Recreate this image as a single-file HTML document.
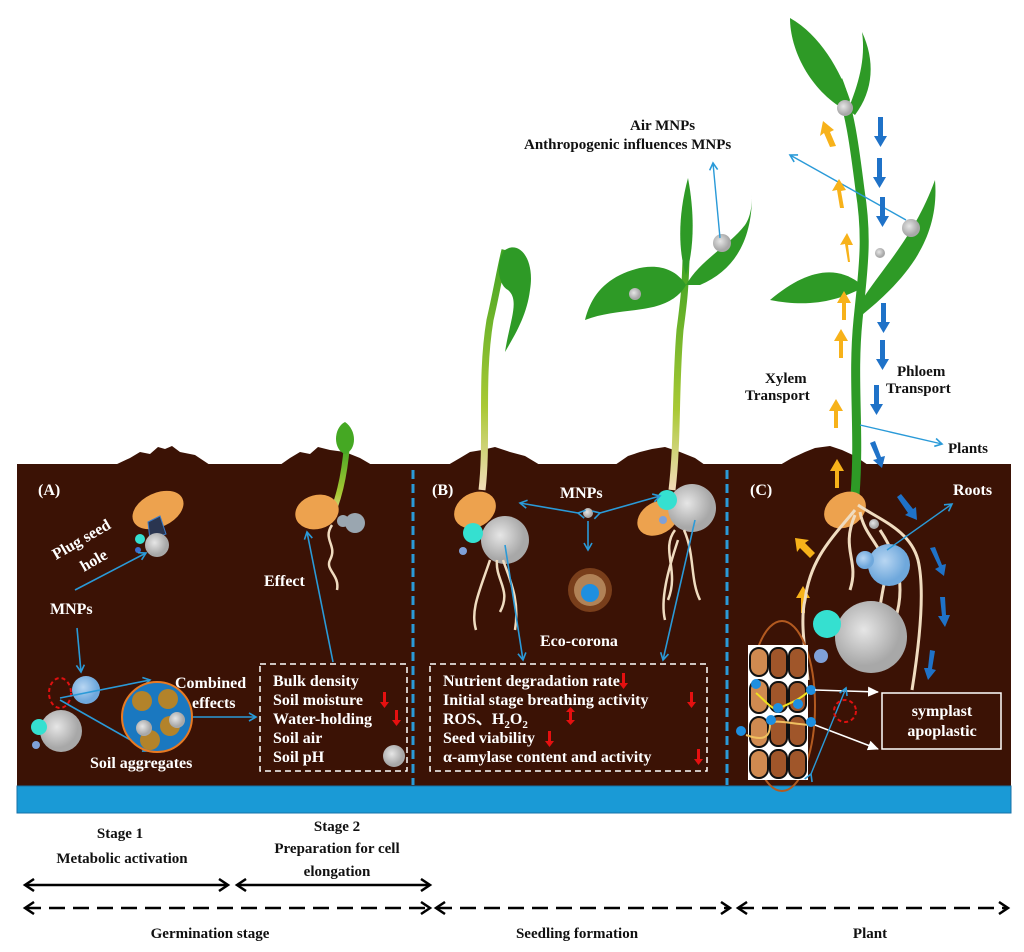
<!DOCTYPE html>
<html><head><meta charset="utf-8">
<style>
html,body{margin:0;padding:0;background:#fff;}
svg{display:block;}
text{font-family:"Liberation Serif",serif;font-weight:bold;}
.w{fill:#fff;font-size:16px;}
.k{fill:#111;font-size:15px;}
</style></head><body>
<svg width="1024" height="952" viewBox="0 0 1024 952" xmlns="http://www.w3.org/2000/svg">
<defs>
<marker id="ab" markerWidth="10" markerHeight="10" refX="8" refY="5" orient="auto" markerUnits="userSpaceOnUse"><path d="M1,1 L8,5 L1,9" fill="none" stroke="#2a9ad8" stroke-width="1.6"/></marker>
<marker id="aw" markerWidth="12" markerHeight="12" refX="10" refY="6" orient="auto" markerUnits="userSpaceOnUse"><path d="M0,1 L11,6 L0,11 z" fill="#fff"/></marker>
<marker id="ak" markerWidth="14" markerHeight="14" refX="11" refY="7" orient="auto-start-reverse" markerUnits="userSpaceOnUse"><path d="M2,1 L11,7 L2,13" fill="none" stroke="#000" stroke-width="2.5"/></marker>
<radialGradient id="gb" cx="40%" cy="40%"><stop offset="0" stop-color="#e6e6e6"/><stop offset="1" stop-color="#a8a8a8"/></radialGradient>
<radialGradient id="bb" cx="40%" cy="40%"><stop offset="0" stop-color="#b8d6f2"/><stop offset="1" stop-color="#6fa8dc"/></radialGradient>
<linearGradient id="st" x1="0" y1="1" x2="0" y2="0"><stop offset="0" stop-color="#f3dcb8"/><stop offset="0.35" stop-color="#a9c934"/><stop offset="1" stop-color="#3fa323"/></linearGradient>
</defs>

<g fill="#3b1205">
<path d="M115,465 L130,458 L140,452 L150,454 L158,447 L165,449 L172,446 L180,452 L195,455 L210,465 Z"/>
<path d="M280,465 L290,458 L300,452 L310,454 L318,447 L330,450 L345,452 L360,458 L372,465 Z"/>
<path d="M448,465 L460,458 L470,452 L482,450 L495,447 L510,452 L525,456 L540,465 Z"/>
<path d="M615,465 L628,456 L640,452 L652,449 L665,447 L680,452 L695,458 L705,465 Z"/>
<path d="M780,465 L792,458 L805,452 L815,448 L830,446 L842,450 L855,456 L868,465 Z"/>
</g>
<rect x="17" y="464" width="994" height="322" fill="#3b1205"/>
<rect x="17" y="786" width="994" height="27" fill="#1a9ad6" stroke="#1671a8" stroke-width="1"/>
<line x1="413" y1="470" x2="413" y2="785" stroke="#2a9ad8" stroke-width="3" stroke-dasharray="9,5"/>
<line x1="727" y1="470" x2="727" y2="785" stroke="#2a9ad8" stroke-width="3" stroke-dasharray="9,5"/>

<!-- Panel A -->
<text class="w" x="38" y="495">(A)</text>
<ellipse cx="158" cy="510" rx="27" ry="17" transform="rotate(-25 158 510)" fill="#eda24e"/>
<path d="M148,522 L160,516 L166,534 L150,540 Z" fill="#2a3550" stroke="#3a7bc8"/>
<circle cx="157" cy="545" r="12" fill="url(#gb)"/>
<circle cx="140" cy="539" r="5" fill="#35e0d0"/>
<circle cx="138" cy="550" r="3" fill="#3a6fd0"/>
<text class="w" transform="translate(56,560) rotate(-30)">Plug seed</text>
<text class="w" transform="translate(84,572) rotate(-30)">hole</text>
<line x1="75" y1="590" x2="146" y2="553" stroke="#2a9ad8" stroke-width="1.6" marker-end="url(#ab)"/>
<text class="w" x="50" y="614">MNPs</text>
<line x1="77" y1="628" x2="81" y2="672" stroke="#2a9ad8" stroke-width="1.6" marker-end="url(#ab)"/>
<circle cx="86" cy="690" r="14" fill="url(#bb)"/>
<circle cx="61" cy="731" r="21" fill="url(#gb)"/>
<circle cx="39" cy="727" r="8" fill="#35e0d0"/>
<circle cx="36" cy="745" r="4" fill="#7fa0d8"/>
<ellipse cx="60" cy="693" rx="11" ry="15" fill="none" stroke="#e01010" stroke-width="2" stroke-dasharray="4,3"/>
<line x1="60" y1="698" x2="150" y2="680" stroke="#2a9ad8" stroke-width="1.6" marker-end="url(#ab)"/>
<line x1="60" y1="700" x2="150" y2="751" stroke="#2a9ad8" stroke-width="1.6" marker-end="url(#ab)"/>
<circle cx="157" cy="717" r="35" fill="#1a78c0" stroke="#e87a22" stroke-width="2"/>
<g fill="#b3832a"><circle cx="142" cy="701" r="10"/><circle cx="168" cy="699" r="10"/><circle cx="170" cy="726" r="10"/><circle cx="150" cy="740" r="10"/></g>
<circle cx="144" cy="728" r="8" fill="url(#gb)"/><circle cx="177" cy="720" r="8" fill="url(#gb)"/>
<text class="w" x="175" y="688">Combined</text>
<text class="w" x="192" y="708">effects</text>
<text class="w" x="90" y="768">Soil aggregates</text>
<line x1="193" y1="717" x2="256" y2="717" stroke="#2a9ad8" stroke-width="1.6" marker-end="url(#ab)"/>
<rect x="260" y="664" width="147" height="107" fill="none" stroke="#fff" stroke-width="1.5" stroke-dasharray="6,4"/>
<text class="w" x="273" y="686">Bulk density</text>
<text class="w" x="273" y="705">Soil moisture</text>
<text class="w" x="273" y="724">Water-holding</text>
<text class="w" x="273" y="743">Soil air</text>
<text class="w" x="273" y="762">Soil pH</text>
<g fill="#e51010"><path d="M383,692 h3 v10 h3 l-4.5,6 l-4.5,-6 h3z"/><path d="M395,710 h3 v10 h3 l-4.5,6 l-4.5,-6 h3z"/></g>
<circle cx="394" cy="756" r="11" fill="url(#gb)"/>
<line x1="333" y1="662" x2="307" y2="532" stroke="#2a9ad8" stroke-width="1.6" marker-end="url(#ab)"/>
<text class="w" x="264" y="586">Effect</text>
<path d="M330,520 C338,500 344,480 347,445" stroke="url(#st)" stroke-width="6" fill="none"/>
<path d="M345,422 C333,428 333,450 345,454 C357,450 357,430 345,422" fill="#45a823"/>
<ellipse cx="317" cy="512" rx="22" ry="17" transform="rotate(-15 317 512)" fill="#eda24e"/>
<circle cx="355" cy="523" r="10" fill="#9aa6b0"/><circle cx="343" cy="521" r="6" fill="#9aa6b0"/>
<path d="M332,525 C322,540 338,545 330,560 C325,570 340,575 337,590" stroke="#f0dcc0" stroke-width="2.5" fill="none"/>

<!-- Panel B -->
<text class="w" x="432" y="495">(B)</text>
<path d="M482,490 C488,440 480,380 490,320 C497,290 500,270 505,250" stroke="url(#st)" stroke-width="7" fill="none"/>
<path d="M505,250 C520,240 535,260 530,290 C527,315 515,335 505,352 C510,320 520,300 508,290 C498,285 495,262 505,250 Z" fill="#2e9a26"/>
<ellipse cx="475" cy="510" rx="22" ry="17" transform="rotate(-30 475 510)" fill="#eda24e"/>
<circle cx="505" cy="540" r="24" fill="url(#gb)"/>
<circle cx="473" cy="533" r="10" fill="#35e0d0"/>
<circle cx="463" cy="551" r="4" fill="#7fa0d8"/>
<path d="M497,560 C495,580 512,590 500,612 M490,560 C480,590 470,610 476,630 M503,560 C510,580 520,600 515,630" stroke="#f0dcc0" stroke-width="2.5" fill="none"/>
<path d="M672,490 C678,440 675,390 680,330 C684,300 685,290 686,260" stroke="url(#st)" stroke-width="7" fill="none"/>
<path d="M686,285 C670,260 640,265 620,275 C600,285 590,300 585,320 C610,310 640,312 660,305 C675,300 682,292 686,285 Z" fill="#2e9a26"/>
<path d="M686,285 C700,260 730,245 745,225 C752,215 752,200 752,195 C752,240 735,270 700,285 Z" fill="#2e9a26"/>
<path d="M686,275 C678,250 678,215 688,178 C695,215 694,250 686,275 Z" fill="#2e9a26"/>
<circle cx="635" cy="294" r="6" fill="url(#gb)"/>
<circle cx="722" cy="243" r="9" fill="url(#gb)"/>
<ellipse cx="658" cy="518" rx="22" ry="16" transform="rotate(-30 658 518)" fill="#eda24e"/>
<circle cx="692" cy="508" r="24" fill="url(#gb)"/>
<circle cx="667" cy="500" r="10" fill="#35e0d0"/>
<circle cx="663" cy="520" r="4" fill="#7fa0d8"/>
<path d="M675,530 C660,550 680,570 668,600 M684,530 C695,555 690,580 700,600 M678,540 C668,570 660,600 665,620" stroke="#f0dcc0" stroke-width="2.5" fill="none"/>
<text class="w" x="560" y="498">MNPs</text>
<circle cx="588" cy="513" r="5" fill="url(#gb)"/>
<line x1="578" y1="513" x2="520" y2="503" stroke="#2a9ad8" stroke-width="1.6" marker-end="url(#ab)" marker-start="url(#ab)"/>
<line x1="600" y1="513" x2="660" y2="496" stroke="#2a9ad8" stroke-width="1.6" marker-end="url(#ab)" marker-start="url(#ab)"/>
<line x1="588" y1="521" x2="588" y2="550" stroke="#2a9ad8" stroke-width="1.6" marker-end="url(#ab)"/>
<circle cx="590" cy="590" r="22" fill="#8a4a20" opacity="0.8"/>
<circle cx="590" cy="590" r="16" fill="#c9a070" opacity="0.7"/>
<circle cx="590" cy="593" r="9" fill="#1e8fe0"/>
<text class="w" x="540" y="646">Eco-corona</text>
<line x1="505" y1="545" x2="523" y2="660" stroke="#2a9ad8" stroke-width="1.6" marker-end="url(#ab)"/>
<line x1="695" y1="520" x2="663" y2="660" stroke="#2a9ad8" stroke-width="1.6" marker-end="url(#ab)"/>
<rect x="430" y="664" width="277" height="107" fill="none" stroke="#fff" stroke-width="1.5" stroke-dasharray="6,4"/>
<text class="w" x="443" y="686">Nutrient degradation rate</text>
<text class="w" x="443" y="705">Initial stage breathing activity</text>
<text class="w" x="443" y="724">ROS、H<tspan font-size="11" dy="4">2</tspan><tspan dy="-4">O</tspan><tspan font-size="11" dy="4">2</tspan></text>
<text class="w" x="443" y="743">Seed viability</text>
<text class="w" x="443" y="762">α-amylase content and activity</text>
<g fill="#e51010">
<path d="M622,673 h3 v10 h3 l-4.5,6 l-4.5,-6 h3z"/>
<path d="M690,692 h3 v10 h3 l-4.5,6 l-4.5,-6 h3z"/>
<path d="M566,712 l4.5,-5 l4.5,5 h-3 v8 h3 l-4.5,5 l-4.5,-5 h3 v-8z"/>
<path d="M548,731 h3 v10 h3 l-4.5,6 l-4.5,-6 h3z"/>
<path d="M697,749 h3 v10 h3 l-4.5,6 l-4.5,-6 h3z"/>
</g>
<text class="k" x="630" y="130">Air MNPs</text>
<text class="k" x="524" y="149">Anthropogenic influences MNPs</text>
<line x1="720" y1="238" x2="713" y2="163" stroke="#2a9ad8" stroke-width="1.4" marker-end="url(#ab)"/>

<!-- Panel C -->
<path d="M855,495 C860,430 852,380 858,320 C863,270 868,240 860,190 C855,150 850,110 838,80" stroke="#2e9a26" stroke-width="9" fill="none"/>
<path d="M845,110 C810,90 790,50 790,18 C820,35 840,70 850,100 Z" fill="#2e9a26"/>
<path d="M848,110 C858,85 866,60 862,32 C875,60 874,90 855,115 Z" fill="#2e9a26"/>
<path d="M862,300 C885,265 915,235 935,180 C940,240 905,280 862,315 Z" fill="#2e9a26"/>
<path d="M858,282 C835,265 805,270 770,300 C810,308 838,300 858,290 Z" fill="#2e9a26"/>
<circle cx="845" cy="108" r="8" fill="url(#gb)"/>
<circle cx="911" cy="228" r="9" fill="url(#gb)"/>
<circle cx="880" cy="253" r="5" fill="url(#gb)"/>
<line x1="906" y1="220" x2="790" y2="155" stroke="#2a9ad8" stroke-width="1.4" marker-end="url(#ab)"/>
<g fill="#f7b21a">
<path d="M830,147 l-6,-14 l-4,3 l3,-15 l11,9 l-4,2 l6,14z"/>
<path d="M840,208 l-3,-18 l-5,1 l7,-12 l7,11 l-5,1 l3,17z"/>
<path d="M848,262 l-3,-18 l-5,1 l7,-12 l6,12 l-5,0 l2,17z"/>
<path d="M842,320 v-17 h-5 l7,-12 l7,12 h-5 v17z"/>
<path d="M839,358 v-17 h-5 l7,-12 l7,12 h-5 v17z"/>
<path d="M834,428 v-17 h-5 l7,-12 l7,12 h-5 v17z"/>
<path d="M835,488 v-17 h-5 l7,-12 l7,12 h-5 v17z"/>
<path d="M810,558 l-10,-10 l-3,4 l-2,-14 l14,2 l-4,3 l10,10z"/>
<path d="M801,613 v-15 h-5 l7,-12 l7,12 h-5 v15z"/>
</g>
<g fill="#1f72c8">
<path d="M878,117 h5 v19 h4 l-6.5,11 l-6.5,-11 h4z"/>
<path d="M877,158 h5 v19 h4 l-6.5,11 l-6.5,-11 h4z"/>
<path d="M880,197 h5 v19 h4 l-6.5,11 l-6.5,-11 h4z"/>
<path d="M881,303 h5 v19 h4 l-6.5,11 l-6.5,-11 h4z"/>
<path d="M880,340 h5 v19 h4 l-6.5,11 l-6.5,-11 h4z"/>
<path d="M874,385 h5 v19 h4 l-6.5,11 l-6.5,-11 h4z"/>
<path d="M870,443 l5,-2 l6,16 l4,-1 l-3,12 l-9,-8 l4,-1z"/>
<path d="M897,497 l4,-3 l12,15 l3,-2 l1,13 l-12,-5 l3,-2z"/>
<path d="M930,548 l5,-1 l7,18 l4,-1 l-2,12 l-9,-7 l4,-2z"/>
<path d="M940,597 l5,0 l1,18 l4,0 l-5,12 l-7,-11 l4,0z"/>
<path d="M930,650 l5,1 l-3,18 l4,1 l-8,10 l-4,-12 l4,0z"/>
</g>
<line x1="860" y1="425" x2="942" y2="444" stroke="#2a9ad8" stroke-width="1.4" marker-end="url(#ab)"/>
<text class="k" x="948" y="453">Plants</text>
<text class="k" x="765" y="383">Xylem</text>
<text class="k" x="745" y="400">Transport</text>
<text class="k" x="897" y="376">Phloem</text>
<text class="k" x="886" y="393">Transport</text>
<text class="w" x="750" y="495">(C)</text>
<text class="w" x="953" y="495">Roots</text>
<ellipse cx="845" cy="510" rx="22" ry="17" transform="rotate(-30 845 510)" fill="#eda24e"/>
<g stroke="#f0dcc0" stroke-width="3" fill="none">
<path d="M858,505 C880,520 910,530 918,560 C925,590 920,640 912,690"/>
<path d="M855,510 C830,540 810,560 805,600 C800,620 805,650 808,680"/>
<path d="M860,512 C865,540 890,550 885,580 C880,600 880,620 870,640"/>
<path d="M855,515 C840,550 860,560 850,590"/>
<path d="M880,530 C900,560 905,590 895,620"/>
</g>
<circle cx="889" cy="565" r="21" fill="url(#bb)"/>
<circle cx="865" cy="560" r="9" fill="url(#bb)"/>
<circle cx="871" cy="637" r="36" fill="url(#gb)"/>
<circle cx="827" cy="624" r="14" fill="#35e0d0"/>
<circle cx="821" cy="656" r="7" fill="#7fa0d8"/>
<circle cx="874" cy="524" r="5" fill="url(#gb)"/>
<line x1="887" y1="550" x2="952" y2="504" stroke="#2a9ad8" stroke-width="1.4" marker-end="url(#ab)"/>
<ellipse cx="782" cy="706" rx="33" ry="85" fill="none" stroke="#b35a20" stroke-width="2"/>
<rect x="748" y="645" width="60" height="135" fill="#fff"/>
<g fill="#a0562a" stroke="#111" stroke-width="2">
<rect x="750" y="648" width="18" height="28" rx="9" fill="#d08a50"/><rect x="750" y="680" width="18" height="33" rx="9" fill="#d08a50"/><rect x="750" y="717" width="18" height="30" rx="9" fill="#d08a50"/><rect x="750" y="750" width="18" height="28" rx="9" fill="#d08a50"/>
<rect x="770" y="648" width="17" height="30" rx="8"/><rect x="789" y="648" width="17" height="30" rx="8"/>
<rect x="770" y="682" width="17" height="30" rx="8"/><rect x="789" y="682" width="17" height="30" rx="8"/>
<rect x="770" y="716" width="17" height="30" rx="8"/><rect x="789" y="716" width="17" height="30" rx="8"/>
<rect x="770" y="750" width="17" height="28" rx="8"/><rect x="789" y="750" width="17" height="28" rx="8"/>
</g>
<path d="M756,693 C765,700 775,715 782,707 C792,702 800,700 811,689" stroke="#f0e020" stroke-width="2" fill="none"/>
<path d="M746,735 C760,740 770,740 770,725 C772,718 790,724 810,725" stroke="#f0c060" stroke-width="2" fill="none"/>
<g fill="#1e8fe0"><circle cx="756" cy="684" r="5"/><circle cx="778" cy="708" r="5"/><circle cx="798" cy="704" r="5"/><circle cx="811" cy="690" r="5"/><circle cx="771" cy="720" r="5"/><circle cx="811" cy="722" r="5"/><circle cx="741" cy="731" r="5"/></g>
<line x1="815" y1="690" x2="878" y2="692" stroke="#fff" stroke-width="1.5" marker-end="url(#aw)"/>
<line x1="815" y1="725" x2="878" y2="749" stroke="#fff" stroke-width="1.5" marker-end="url(#aw)"/>
<path d="M811,774 L846,688" stroke="#2a9ad8" stroke-width="1.4" fill="none" marker-end="url(#ab)" marker-start="url(#ab)"/>
<circle cx="845" cy="711" r="11" fill="none" stroke="#e01010" stroke-width="2" stroke-dasharray="4,3"/>
<rect x="882" y="693" width="119" height="56" fill="none" stroke="#fff" stroke-width="1.5"/>
<text class="w" x="942" y="716" text-anchor="middle">symplast</text>
<text class="w" x="942" y="736" text-anchor="middle">apoplastic</text>

<!-- bottom timeline -->
<text class="k" x="120" y="838" text-anchor="middle">Stage 1</text>
<text class="k" x="122" y="863" text-anchor="middle">Metabolic activation</text>
<text class="k" x="337" y="831" text-anchor="middle">Stage 2</text>
<text class="k" x="337" y="853" text-anchor="middle">Preparation for cell</text>
<text class="k" x="337" y="876" text-anchor="middle">elongation</text>
<text class="k" x="210" y="938" text-anchor="middle">Germination stage</text>
<text class="k" x="577" y="938" text-anchor="middle">Seedling formation</text>
<text class="k" x="870" y="938" text-anchor="middle">Plant</text>
<line x1="25" y1="885" x2="228" y2="885" stroke="#000" stroke-width="2.5" marker-start="url(#ak)" marker-end="url(#ak)"/>
<line x1="237" y1="885" x2="430" y2="885" stroke="#000" stroke-width="2.5" marker-start="url(#ak)" marker-end="url(#ak)"/>
<line x1="25" y1="908" x2="430" y2="908" stroke="#000" stroke-width="2.5" stroke-dasharray="16,8" marker-start="url(#ak)" marker-end="url(#ak)"/>
<line x1="436" y1="908" x2="730" y2="908" stroke="#000" stroke-width="2.5" stroke-dasharray="16,8" marker-start="url(#ak)" marker-end="url(#ak)"/>
<line x1="738" y1="908" x2="1008" y2="908" stroke="#000" stroke-width="2.5" stroke-dasharray="16,8" marker-start="url(#ak)" marker-end="url(#ak)"/>
</svg>
</body></html>
